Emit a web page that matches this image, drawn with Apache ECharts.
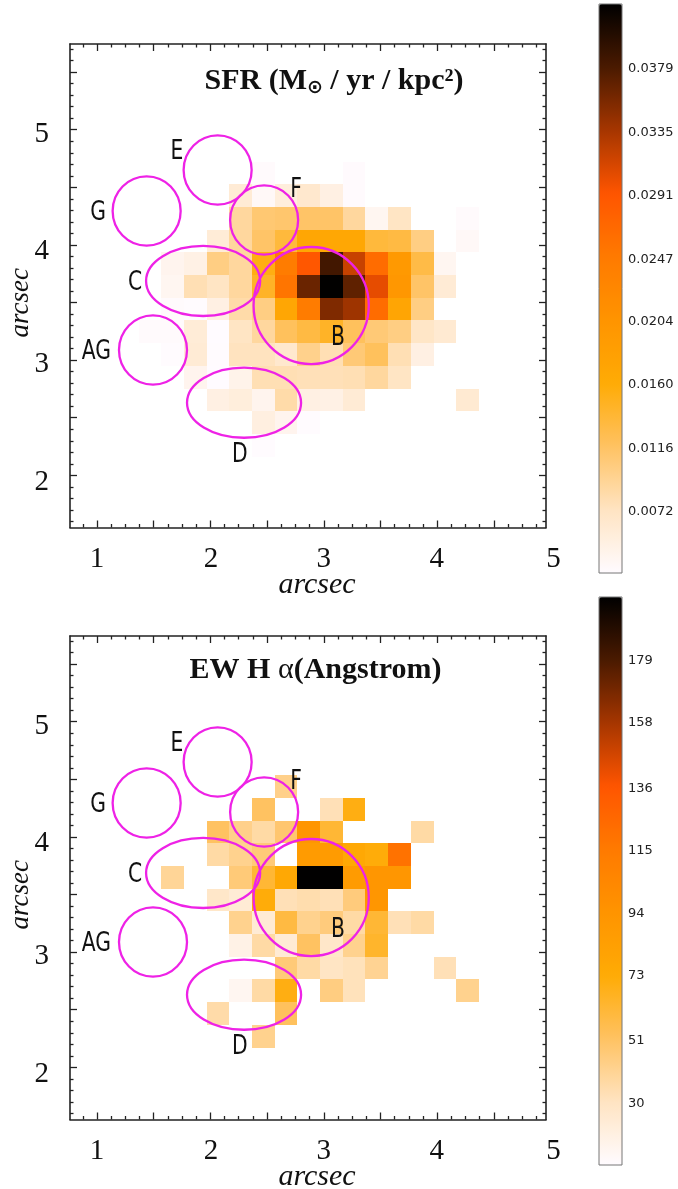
<!DOCTYPE html>
<html><head><meta charset="utf-8">
<style>html,body{margin:0;padding:0;background:#fff}#c{width:678px;height:1189px}</style>
<script src="https://cdn.jsdelivr.net/npm/echarts@6/dist/echarts.min.js"></script>
</head><body><div id="c"></div>
<script>
const xMajorTicks=[1,1.5,2,2.5,3,3.5,4,4.5];
const xMinorTicks=[0.875,1.125,1.25,1.375,1.625,1.75,1.875,2.125,2.25,2.375,2.625,2.75,2.875,3.125,3.25,3.375,3.625,3.75,3.875,4.125,4.25,4.375,4.625,4.75,4.875];
const xLabels=[1,2.005,3,3.995,5.025];
const yMajorTicks=[2,2.5,3,3.5,4,4.5,5,5.5];
const yMinorTicks=[1.6,1.7,1.8,1.9,2.1,2.2,2.3,2.4,2.6,2.7,2.8,2.9,3.1,3.2,3.3,3.4,3.6,3.7,3.8,3.9,4.1,4.2,4.3,4.4,4.6,4.7,4.8,4.9,5.1,5.2,5.3,5.4,5.6,5.7];
const yLabels=[1.942,2.962,3.944,4.958];

// pixel (cell) centres in arcsec
const cellX=[1.468,1.668,1.868,2.068,2.268,2.468,2.668,2.868,3.068,3.268,3.468,3.668,3.868,4.068,4.268];
const sfrRowY=[4.625,4.428,4.231,4.034,3.837,3.640,3.443,3.246,3.049,2.852,2.655,2.458,2.261];
const ewRowY=[4.634,4.437,4.240,4.043,3.846,3.649,3.452,3.255,3.058,2.861,2.664,2.467,2.270];
const cellW=0.2, cellH=0.197;

const sfrCells=[
[0,0,0,0,0,.0032,0,0,0,.0031,0,0,0,0,0],
[0,0,0,0,.006,.0035,.0055,.0065,.005,.0031,0,0,0,0,0],
[0,0,0,0,.009,.011,.0112,.0115,.0115,.009,.004,.0072,0,0,.0032],
[0,0,0,.0058,.009,.0115,.0135,.017,.0168,.0168,.0135,.0132,.0102,0,.0035],
[0,.0042,.0048,.0102,.009,.0155,.0245,.029,.0385,.032,.0265,.0195,.013,.004,0],
[0,.004,.008,.0072,.009,.0145,.0255,.0365,.0423,.037,.0305,.02,.0115,.006,0],
[0,.0032,.003,.005,.0085,.0102,.017,.0245,.0355,.034,.0265,.0172,.0102,0,0],
[.0032,.0032,.0058,.0029,.0072,.009,.012,.0132,.0145,.012,.0108,.0102,.007,.0062,0],
[0,.003,.006,.003,.0075,.0075,.0065,.0098,.008,.0108,.012,.008,.005,0,0],
[0,0,.0042,.0028,.0045,.008,.008,.0078,.0078,.008,.009,.0072,0,0,0],
[0,0,0,.005,.0055,.0042,.0085,.005,.0048,.006,0,0,0,0,.0062],
[0,0,0,0,0,.0052,.0042,.003,0,0,0,0,0,0,0],
[0,0,0,0,0,.003,0,0,0,0,0,0,0,0,0]
];
const ewCells=[
[0,0,0,0,0,0,0,0,0,0,0,0,0,0,0],
[0,0,0,0,0,0,43,0,0,0,0,0,0,0,0],
[0,0,0,0,0,52,0,0,33,70,0,0,0,0,0],
[0,0,0,52,43,37,49,92,62,0,0,0,37,0,0],
[0,0,0,37,42,47,0,88,88,76,72,120,0,0,0],
[0,40,0,0,47,62,76,200,200,88,92,92,0,0,0],
[0,0,0,28,24,72,33,35,33,46,92,0,0,0,0],
[0,0,0,0,42,24,59,42,46,37,62,33,37,0,0],
[0,0,0,0,18,37,24,52,28,42,64,0,0,0,0],
[0,0,0,0,0,0,47,37,30,32,41,0,0,33,0],
[0,0,0,0,14,37,70,0,45,32,0,0,0,0,42],
[0,0,0,36,0,0,53,0,0,0,0,0,0,0,0],
[0,0,0,0,0,42,0,0,0,0,0,0,0,0,0]
];

const regionNames=['E','G','F','C','AG','B','D'];
const regionX=[2.064,1.438,2.474,1.936,1.494,2.889,2.297];
const regionY=[4.650,4.294,4.216,3.687,3.088,3.474,2.630];
const regionRx=[0.300,0.300,0.300,0.503,0.300,0.508,0.503];
const regionRy=[0.301,0.301,0.301,0.304,0.301,0.508,0.304];
const labelX=[1.705,1.010,2.755,1.335,0.995,3.125,2.260];
const labelY=[4.805,4.271,4.473,3.665,3.067,3.194,2.177];

const sfrBarTicks=[.0072,.0116,.0160,.0204,.0247,.0291,.0335,.0379];
const ewBarTicks=[30,51,73,94,115,136,158,179];
const sfrRange=[.00296,.0424];
const ewRange=[9.3,200.4];
const heatColors=['#fffbff','#ffe4c2','#ffc262','#ffab05','#ff9400','#ff7a00','#ff5500','#a63600','#4a1a00','#000000'];

const X0=0.762,X1=4.96,XL=5.05,Y0=1.547,Y1=5.744;
const serif='"Liberation Serif","Times New Roman",serif';
const sans='"DejaVu Sans",sans-serif';
const ink='#222';

function mainAxes(grid){
  const common={type:'value',gridIndex:grid,min:X0,max:X1,splitLine:{show:false},z:5};
  const x=(pos,ticks,len,named,line)=>({...common,position:pos,
    axisLine:{show:line,onZero:false,lineStyle:{color:ink,width:1.6}},
    axisTick:{show:true,inside:true,length:len,customValues:ticks,lineStyle:{color:ink,width:1.3}},
    axisLabel:{show:false},
    ...(named?{name:'arcsec',nameLocation:'middle',nameGap:43,nameMoveOverlap:false,nameTextStyle:{fontFamily:serif,fontStyle:'italic',fontSize:30,color:'#111',padding:[0,0,0,18]}}:{})
  });
  const yc={type:'value',gridIndex:grid,min:Y0,max:Y1,splitLine:{show:false},z:5};
  const y=(pos,ticks,len,lab,line)=>({...yc,position:pos,
    axisLine:{show:line,onZero:false,lineStyle:{color:ink,width:1.6}},
    axisTick:{show:true,inside:true,length:len,customValues:ticks,lineStyle:{color:ink,width:1.3}},
    axisLabel:lab?{show:true,customValues:yLabels,margin:21,fontFamily:serif,fontSize:29,color:'#111',formatter:v=>String(Math.round(v))}:{show:false},
    ...(lab?{name:'arcsec',nameLocation:'middle',nameGap:36,nameMoveOverlap:false,nameRotate:90,nameTextStyle:{fontFamily:serif,fontStyle:'italic',fontSize:27,color:'#111',padding:[0,34,0,0]}}:{})
  });
  return {
    x:[x('bottom',xMajorTicks,7,true,true),x('bottom',xMinorTicks,3.5,false,false),x('top',xMajorTicks,7,false,true),x('top',xMinorTicks,3.5,false,false)],
    y:[y('left',yMajorTicks,7,true,true),y('left',yMinorTicks,3.5,false,false),y('right',yMajorTicks,7,false,true),y('right',yMinorTicks,3.5,false,false)]
  };
}
function barAxes(grid,range,ticks,fmt){
  return {
    x:[{type:'value',gridIndex:grid,min:0,max:1,show:false}],
    y:[{type:'value',gridIndex:grid,min:range[0],max:range[1],position:'right',splitLine:{show:false},
      axisLine:{show:false},
      axisTick:{show:true,length:3.5,customValues:ticks,lineStyle:{color:'#555',width:1}},
      axisLabel:{show:true,customValues:ticks,margin:6,fontFamily:sans,fontSize:13,color:'#222',formatter:fmt}}]
  };
}
// the "5" label sits just past the frame, so x labels live on a slightly wider grid
function labelAxes(grid){
  return {
    x:[{type:'value',gridIndex:grid,min:X0,max:XL,position:'bottom',splitLine:{show:false},axisLine:{show:false,onZero:false},axisTick:{show:false},
      axisLabel:{show:true,customValues:xLabels,margin:17,fontFamily:serif,fontSize:29,color:'#111',formatter:v=>String(Math.round(v))}}],
    y:[{type:'value',gridIndex:grid,min:Y0,max:Y1,show:false}]
  };
}
const A1=mainAxes(0),A2=mainAxes(1),B1=barAxes(2,sfrRange,sfrBarTicks,v=>v.toFixed(4)),B2=barAxes(3,ewRange,ewBarTicks,v=>String(Math.round(v))),L1=labelAxes(4),L2=labelAxes(5);
const xAxes=[...A1.x,...A2.x,...B1.x,...B2.x,...L1.x,...L2.x];
const yAxes=[...A1.y,...A2.y,...B1.y,...B2.y,...L1.y,...L2.y];

function cells(rows,rowY){
  const out=[];
  rows.forEach((r,i)=>r.forEach((v,j)=>{if(v>0)out.push([cellX[j],rowY[i],v]);}));
  return out;
}
function renderCell(params,api){
  const a=api.coord([api.value(0)-cellW/2,api.value(1)+cellH/2]);
  const b=api.coord([api.value(0)+cellW/2,api.value(1)-cellH/2]);
  const x0=Math.round(a[0]),y0=Math.round(a[1]),x1=Math.round(b[0]),y1=Math.round(b[1]);
  return {type:'rect',shape:{x:x0,y:y0,width:x1-x0,height:y1-y0},style:{fill:api.visual('color')}};
}
const regionData=regionNames.map((n,i)=>[regionX[i],regionY[i],regionRx[i],regionRy[i]]);
function renderRegion(params,api){
  const c=api.coord([api.value(0),api.value(1)]);
  const s=api.size([api.value(2),api.value(3)]);
  return {type:'ellipse',shape:{cx:c[0],cy:c[1],rx:s[0],ry:s[1]},style:{fill:null,stroke:'#ee22e6',lineWidth:2.3}};
}
const labelData=regionNames.map((n,i)=>[labelX[i],labelY[i],n]);
function renderLabel(params,api){
  const c=api.coord([api.value(0),api.value(1)]);
  return {type:'text',x:c[0],y:c[1],scaleX:0.78,style:{text:labelData[params.dataIndex][2],fontFamily:sans,fontSize:26,fill:'#111',align:'center',verticalAlign:'middle'}};
}
function panelSeries(grid,rows,rowY){
  const ax={xAxisIndex:grid*4,yAxisIndex:grid*4};
  return [
    {type:'custom',name:'cells',...ax,data:cells(rows,rowY),renderItem:renderCell,encode:{x:0,y:1},silent:true,z:2,clip:true},
    {type:'custom',name:'regions',...ax,data:regionData,renderItem:renderRegion,encode:{x:0,y:1},silent:true,z:3},
    {type:'custom',name:'labels',...ax,data:labelData,renderItem:renderLabel,encode:{x:0,y:1},silent:true,z:4}
  ];
}
const frameW=476, labelW=486.3;
const option={
  animation:false,backgroundColor:'#fff',
  title:[
    {text:'SFR (M{s|\u2299} / yr / kpc\u00b2)',left:329,top:60,textAlign:'center',
      textStyle:{fontFamily:serif,fontWeight:'bold',fontSize:30,color:'#111',rich:{s:{fontFamily:sans,fontSize:19,fontWeight:'bold',verticalAlign:'bottom',padding:[14,0,0,0],color:'#111'}}}},
    {text:'EW H {a|\u03b1}(Angstrom)',left:310.5,top:650,textAlign:'center',
      textStyle:{fontFamily:serif,fontWeight:'bold',fontSize:30,color:'#111',rich:{a:{fontFamily:serif,fontWeight:'normal',fontSize:30,color:'#111'}}}}
  ],
  grid:[
    {left:70,top:44,width:frameW,height:483.5,show:false,outerBoundsMode:'none'},
    {left:70,top:636,width:frameW,height:483.5,show:false,outerBoundsMode:'none'},
    {left:599,top:4,width:23,height:569,show:true,borderColor:'#777',borderWidth:1,backgroundColor:'transparent',z:10,outerBoundsMode:'none'},
    {left:599,top:597,width:23,height:568,show:true,borderColor:'#777',borderWidth:1,backgroundColor:'transparent',z:10,outerBoundsMode:'none'},
    {left:70,top:44,width:labelW,height:483.5,show:false,outerBoundsMode:'none'},
    {left:70,top:636,width:labelW,height:483.5,show:false,outerBoundsMode:'none'}
  ],
  xAxis:xAxes,yAxis:yAxes,
  visualMap:[
    {type:'continuous',seriesIndex:0,dimension:2,min:sfrRange[0],max:sfrRange[1],left:599,top:4,itemWidth:23,itemHeight:569,padding:0,text:null,showLabel:false,calculable:false,hoverLink:false,inRange:{color:heatColors}},
    {type:'continuous',seriesIndex:3,dimension:2,min:ewRange[0],max:ewRange[1],left:599,top:597,itemWidth:23,itemHeight:568,padding:0,text:null,showLabel:false,calculable:false,hoverLink:false,inRange:{color:heatColors}}
  ],
  series:[...panelSeries(0,sfrCells,sfrRowY),...panelSeries(1,ewCells,ewRowY)]
};
echarts.init(document.getElementById('c'),null,{renderer:'canvas'}).setOption(option);
</script></body></html>
